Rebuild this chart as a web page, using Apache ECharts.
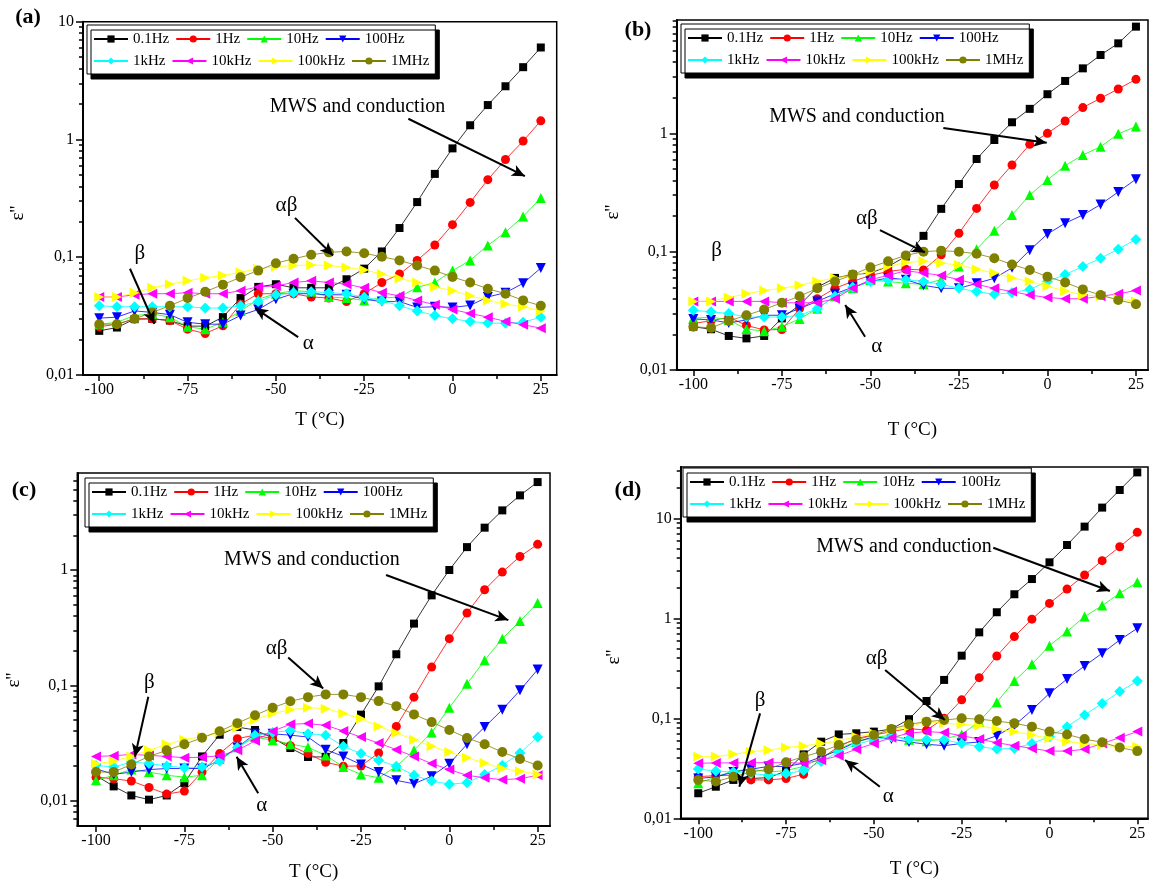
<!DOCTYPE html>
<html>
<head>
<meta charset="utf-8">
<title>ε'' vs T</title>
<script src="https://cdn.jsdelivr.net/npm/echarts@6/dist/echarts.min.js"></script>
<style>
  html, body { margin: 0; padding: 0; background: #fff; }
  #chart { width: 1150px; height: 887px; }
</style>
</head>
<body>
<div id="chart"></div>
<script>
// temperature steps (°C)
const temps = [-100, -95, -90, -85, -80, -75, -70, -65, -60, -55, -50, -45, -40,
  -35, -30, -25, -20, -15, -10, -5, 0, 5, 10, 15, 20, 25];
const freqs = ['0.1Hz', '1Hz', '10Hz', '100Hz', '1kHz', '10kHz', '100kHz', '1MHz'];
const xTicks = [-100, -75, -50, -25, 0, 25];
const xMinorTicks = [-87.5, -62.5, -37.5, -12.5, 12.5];
const yTicks = [0.01, 0.1, 1, 10];
const yMinorMant = [2, 3, 4, 5, 6, 7, 8, 9];
const yDecades = [0.001, 0.01, 0.1, 1, 10];

// panel (a)
const a01Hz = [0.0237, 0.0253, 0.0298, 0.030, 0.029, 0.026, 0.026, 0.031, 0.045, 0.056, 0.059, 0.055, 0.055, 0.055, 0.065, 0.080, 0.112, 0.177, 0.294, 0.51, 0.84, 1.32, 1.96, 2.83, 4.11, 6.04];
const a1Hz = [0.0257, 0.027, 0.030, 0.030, 0.029, 0.0245, 0.0225, 0.0262, 0.040, 0.049, 0.049, 0.049, 0.046, 0.045, 0.042, 0.049, 0.061, 0.072, 0.094, 0.127, 0.189, 0.292, 0.456, 0.676, 0.97, 1.44];
const a10Hz = [0.027, 0.028, 0.032, 0.033, 0.031, 0.0257, 0.0245, 0.028, 0.035, 0.044, 0.049, 0.052, 0.051, 0.046, 0.045, 0.043, 0.045, 0.046, 0.0555, 0.061, 0.077, 0.094, 0.126, 0.163, 0.222, 0.318];
const a100Hz = [0.0304, 0.031, 0.035, 0.034, 0.0325, 0.028, 0.027, 0.027, 0.032, 0.036, 0.044, 0.049, 0.049, 0.048, 0.048, 0.044, 0.042, 0.042, 0.0375, 0.038, 0.0375, 0.039, 0.046, 0.050, 0.060, 0.081];
const a1kHz = [0.0387, 0.038, 0.038, 0.038, 0.038, 0.038, 0.037, 0.037, 0.0387, 0.042, 0.048, 0.050, 0.051, 0.050, 0.049, 0.0457, 0.043, 0.0387, 0.035, 0.032, 0.030, 0.0285, 0.0276, 0.0275, 0.028, 0.031];
const a10kHz = [0.046, 0.046, 0.048, 0.049, 0.049, 0.050, 0.049, 0.049, 0.052, 0.056, 0.057, 0.061, 0.063, 0.061, 0.059, 0.055, 0.050, 0.047, 0.043, 0.0395, 0.036, 0.0333, 0.031, 0.0285, 0.0267, 0.025];
const a100kHz = [0.046, 0.046, 0.050, 0.055, 0.059, 0.063, 0.067, 0.070, 0.0745, 0.080, 0.083, 0.085, 0.086, 0.085, 0.082, 0.078, 0.072, 0.066, 0.061, 0.056, 0.052, 0.047, 0.043, 0.040, 0.038, 0.035];
const a1MHz = [0.027, 0.027, 0.030, 0.034, 0.0387, 0.045, 0.051, 0.0585, 0.0675, 0.077, 0.089, 0.097, 0.105, 0.110, 0.112, 0.108, 0.101, 0.094, 0.085, 0.077, 0.068, 0.061, 0.054, 0.049, 0.043, 0.0387];

// panel (b)
const b01Hz = [0.0232, 0.0221, 0.0194, 0.0185, 0.0194, 0.0273, 0.0354, 0.050, 0.060, 0.064, 0.066, 0.075, 0.091, 0.136, 0.23, 0.373, 0.607, 0.878, 1.24, 1.61, 2.14, 2.77, 3.54, 4.59, 5.76, 7.97];
const b1Hz = [0.0248, 0.026, 0.028, 0.0238, 0.0218, 0.022, 0.033, 0.040, 0.049, 0.056, 0.063, 0.068, 0.071, 0.070, 0.094, 0.143, 0.232, 0.366, 0.54, 0.807, 1.0, 1.27, 1.65, 1.98, 2.37, 2.86];
const b10Hz = [0.0273, 0.028, 0.0265, 0.0222, 0.0213, 0.0232, 0.027, 0.033, 0.042, 0.049, 0.0575, 0.056, 0.054, 0.053, 0.058, 0.075, 0.105, 0.15, 0.204, 0.301, 0.403, 0.533, 0.656, 0.77, 0.99, 1.14];
const b100Hz = [0.027, 0.0265, 0.025, 0.0265, 0.029, 0.029, 0.033, 0.038, 0.044, 0.050, 0.056, 0.060, 0.058, 0.052, 0.049, 0.049, 0.054, 0.0596, 0.073, 0.103, 0.141, 0.174, 0.204, 0.25, 0.32, 0.41];
const b1kHz = [0.032, 0.031, 0.030, 0.028, 0.028, 0.028, 0.029, 0.033, 0.042, 0.050, 0.056, 0.058, 0.058, 0.056, 0.053, 0.049, 0.046, 0.0436, 0.045, 0.048, 0.056, 0.064, 0.075, 0.088, 0.105, 0.127];
const b10kHz = [0.038, 0.038, 0.038, 0.038, 0.038, 0.037, 0.037, 0.037, 0.040, 0.049, 0.058, 0.063, 0.069, 0.066, 0.063, 0.058, 0.053, 0.049, 0.046, 0.043, 0.041, 0.040, 0.040, 0.042, 0.044, 0.047];
const b100kHz = [0.038, 0.038, 0.041, 0.044, 0.047, 0.049, 0.052, 0.056, 0.060, 0.063, 0.068, 0.075, 0.081, 0.083, 0.080, 0.077, 0.071, 0.066, 0.060, 0.056, 0.051, 0.0465, 0.043, 0.042, 0.040, 0.038];
const b1MHz = [0.0232, 0.0227, 0.026, 0.029, 0.0325, 0.037, 0.042, 0.049, 0.056, 0.064, 0.0737, 0.083, 0.093, 0.100, 0.102, 0.100, 0.096, 0.088, 0.078, 0.070, 0.0615, 0.055, 0.048, 0.043, 0.039, 0.036];

// panel (c)
const c01Hz = [0.0165, 0.0133, 0.0111, 0.0102, 0.0111, 0.0142, 0.0242, 0.0373, 0.0435, 0.041, 0.035, 0.0286, 0.0239, 0.024, 0.0316, 0.0557, 0.098, 0.186, 0.343, 0.603, 1.0, 1.58, 2.33, 3.29, 4.44, 5.79];
const c1Hz = [0.016, 0.0155, 0.0148, 0.013, 0.0114, 0.0121, 0.0177, 0.0256, 0.0345, 0.037, 0.0345, 0.030, 0.0256, 0.0215, 0.0199, 0.020, 0.0259, 0.044, 0.079, 0.144, 0.254, 0.424, 0.675, 0.96, 1.31, 1.67];
const c10Hz = [0.015, 0.0166, 0.0186, 0.0177, 0.0166, 0.016, 0.0166, 0.023, 0.029, 0.0356, 0.0334, 0.031, 0.029, 0.0247, 0.0196, 0.0169, 0.0158, 0.0198, 0.0273, 0.039, 0.064, 0.103, 0.165, 0.254, 0.361, 0.518];
const c100Hz = [0.0189, 0.0169, 0.0177, 0.0186, 0.019, 0.019, 0.019, 0.0224, 0.0289, 0.038, 0.038, 0.037, 0.0356, 0.0277, 0.0242, 0.0206, 0.0177, 0.015, 0.014, 0.0163, 0.0209, 0.0308, 0.0435, 0.0615, 0.0905, 0.137];
const c1kHz = [0.0202, 0.0196, 0.0216, 0.021, 0.020, 0.0193, 0.0196, 0.022, 0.0289, 0.037, 0.039, 0.0406, 0.038, 0.037, 0.0296, 0.0256, 0.0224, 0.0199, 0.0166, 0.0148, 0.0139, 0.0143, 0.0169, 0.0202, 0.0259, 0.0356];
const c10kHz = [0.0242, 0.0245, 0.0252, 0.0247, 0.0242, 0.0236, 0.0238, 0.0245, 0.0273, 0.033, 0.040, 0.046, 0.0466, 0.045, 0.0402, 0.0356, 0.0316, 0.0277, 0.0242, 0.021, 0.0186, 0.0166, 0.0158, 0.0152, 0.0155, 0.0166];
const c100kHz = [0.0209, 0.022, 0.0242, 0.0273, 0.0308, 0.0338, 0.036, 0.039, 0.043, 0.0504, 0.057, 0.0615, 0.064, 0.0628, 0.057, 0.0514, 0.044, 0.0386, 0.0338, 0.0296, 0.0264, 0.0236, 0.0212, 0.019, 0.018, 0.0169];
const c1MHz = [0.0177, 0.0177, 0.0206, 0.0242, 0.0273, 0.0308, 0.0351, 0.040, 0.047, 0.055, 0.064, 0.0727, 0.079, 0.0835, 0.0835, 0.079, 0.073, 0.066, 0.056, 0.048, 0.041, 0.035, 0.0308, 0.0264, 0.023, 0.0202];

// panel (d)
const d01Hz = [0.0178, 0.0207, 0.0242, 0.025, 0.0255, 0.0297, 0.0436, 0.0584, 0.069, 0.0708, 0.0736, 0.078, 0.098, 0.149, 0.242, 0.423, 0.724, 1.15, 1.74, 2.47, 3.63, 5.41, 8.26, 12.8, 19.2, 28.8];
const d1Hz = [0.0261, 0.0267, 0.027, 0.0242, 0.0242, 0.025, 0.0276, 0.0398, 0.052, 0.063, 0.068, 0.0736, 0.079, 0.076, 0.1, 0.153, 0.255, 0.42, 0.656, 0.98, 1.41, 1.96, 2.71, 3.77, 5.2, 7.24];
const d10Hz = [0.0224, 0.026, 0.0297, 0.031, 0.029, 0.030, 0.033, 0.040, 0.050, 0.058, 0.064, 0.068, 0.061, 0.059, 0.062, 0.069, 0.093, 0.145, 0.236, 0.347, 0.533, 0.736, 1.04, 1.34, 1.78, 2.29];
const d100Hz = [0.025, 0.026, 0.029, 0.031, 0.033, 0.033, 0.0355, 0.041, 0.048, 0.058, 0.0655, 0.062, 0.058, 0.055, 0.0533, 0.056, 0.058, 0.067, 0.0845, 0.121, 0.178, 0.247, 0.334, 0.447, 0.607, 0.794];
const d1kHz = [0.0311, 0.0297, 0.029, 0.028, 0.027, 0.028, 0.030, 0.037, 0.0464, 0.055, 0.061, 0.0655, 0.062, 0.061, 0.061, 0.056, 0.052, 0.0493, 0.050, 0.056, 0.0655, 0.0825, 0.108, 0.141, 0.185, 0.236];
const d10kHz = [0.0355, 0.0358, 0.0358, 0.036, 0.036, 0.036, 0.0355, 0.038, 0.0423, 0.049, 0.056, 0.064, 0.071, 0.0736, 0.072, 0.067, 0.062, 0.057, 0.0533, 0.050, 0.047, 0.047, 0.049, 0.056, 0.064, 0.0736];
const d100kHz = [0.0414, 0.0414, 0.0436, 0.0464, 0.048, 0.051, 0.053, 0.056, 0.0593, 0.0655, 0.071, 0.076, 0.0825, 0.0926, 0.089, 0.087, 0.0845, 0.078, 0.0736, 0.068, 0.063, 0.0585, 0.056, 0.054, 0.052, 0.052];
const d1MHz = [0.0242, 0.0233, 0.026, 0.029, 0.031, 0.0364, 0.0414, 0.0464, 0.054, 0.061, 0.068, 0.078, 0.087, 0.0926, 0.096, 0.1, 0.098, 0.094, 0.089, 0.0825, 0.0736, 0.069, 0.062, 0.0575, 0.051, 0.047];

// annotation text positions and arrows, in data units [T, ε'']
const notesA = [['MWS and conduction', -26.9, 1.88], ['αβ', -47, 0.275], ['β', -88.5, 0.107], ['α', -40.8, 0.0185]];
const arrowsA = [[-12.5, 1.5, 20.5, 0.488], [-44.6, 0.216, -33.8, 0.1035], [-91.3, 0.0798, -84.4, 0.0272], [-43.7, 0.021, -55.9, 0.037]];
const notesB = [['MWS and conduction', -53.8, 1.38], ['αβ', -51, 0.191], ['β', -93.4, 0.103], ['α', -48.2, 0.0157]];
const arrowsB = [[-29.4, 1.11, -0.2, 0.833], [-47.3, 0.152, -34.6, 0.0986], [-51.5, 0.0191, -57.1, 0.0354]];
const notesC = [['MWS and conduction', -38.9, 1.24], ['αβ', -48.9, 0.209], ['β', -84.9, 0.105], ['α', -53.1, 0.00916]];
const arrowsC = [[-17.9, 0.905, 16.7, 0.368], [-45.6, 0.174, -35.7, 0.094], [-85.2, 0.0796, -89, 0.024], [-54.1, 0.01157, -60.2, 0.024]];
const notesD = [['MWS and conduction', -41.4, 5.2], ['αβ', -49.2, 0.392], ['β', -82.4, 0.152], ['α', -45.9, 0.0164]];
const arrowsD = [[-16, 5.08, 17.2, 1.875], [-46.8, 0.304, -29.8, 0.0962], [-82.4, 0.112, -88.3, 0.0207], [-48.3, 0.0207, -58.2, 0.0383]];

const FONT = '"Liberation Serif", "Times New Roman", serif';
const colors = ['#000000', '#ff0000', '#00ff00', '#0000ff', '#00ffff', '#ff00ff', '#ffff00', '#808000'];
const symbols = ['rect', 'circle', 'triangle', 'triangle', 'diamond', 'triangle', 'triangle', 'circle'];
const rotations = [0, 0, 0, 180, 0, 90, -90, 0];
const sizes = [8, 9, 10, 10, 11, 10, 10, 10];

const panels = [
  {
    label: '(a)', values: [a01Hz, a1Hz, a10Hz, a100Hz, a1kHz, a10kHz, a100kHz, a1MHz],
    notes: notesA, arrows: arrowsA,
    grid: { left: 83, top: 21.7, width: 473.7, height: 353.3 },
    xMin: -104.6, xMax: 29.5, yMin: 0.01, yMax: 10, nameGap: 36,
    legend: { left: 87, top: 25 }, tag: [28, 17], eps: [18, 213]
  },
  {
    label: '(b)', values: [b01Hz, b1Hz, b10Hz, b100Hz, b1kHz, b10kHz, b100kHz, b1MHz],
    notes: notesB, arrows: arrowsB,
    grid: { left: 676.7, top: 20, width: 471.3, height: 350 },
    xMin: -104.7, xMax: 28.4, yMin: 0.01, yMax: 9.07, nameGap: 51,
    legend: { left: 681, top: 24 }, tag: [638, 30], eps: [613, 212]
  },
  {
    label: '(c)', values: [c01Hz, c1Hz, c10Hz, c100Hz, c1kHz, c10kHz, c100kHz, c1MHz],
    notes: notesC, arrows: arrowsC,
    grid: { left: 77.3, top: 473, width: 472.7, height: 353 },
    xMin: -105.3, xMax: 28.5, yMin: 0.00603, yMax: 6.94, nameGap: 37,
    legend: { left: 85, top: 478 }, tag: [24, 490], eps: [14, 680]
  },
  {
    label: '(d)', values: [d01Hz, d1Hz, d10Hz, d100Hz, d1kHz, d10kHz, d100kHz, d1MHz],
    notes: notesD, arrows: arrowsD,
    grid: { left: 680.7, top: 467, width: 467.3, height: 351.3 },
    xMin: -105, xMax: 28.05, yMin: 0.01, yMax: 32.6, nameGap: 41,
    legend: { left: 683, top: 468 }, tag: [628, 490], eps: [614, 657]
  }
];

const tickLabel = { fontFamily: FONT, fontSize: 16, color: '#000' };
const fmtY = v => {
  const n = Math.pow(10, Math.round(v));
  return (n >= 1 ? String(n) : String(+n.toPrecision(1))).replace('.', ',');
};

const grids = [], xAxes = [], yAxes = [], series = [], legends = [], graphics = [];

panels.forEach((p, pi) => {
  grids.push(Object.assign({ show: true, borderColor: '#000', borderWidth: 1.5, containLabel: false }, p.grid));

  // main x axis
  xAxes.push({
    type: 'value', gridIndex: pi, position: 'bottom', min: p.xMin, max: p.xMax,
    axisLine: { show: true, onZero: false, lineStyle: { color: '#000', width: 2 } },
    axisTick: { show: true, customValues: xTicks, length: 6, lineStyle: { color: '#000', width: 1.5 } },
    axisLabel: Object.assign({ show: true, customValues: xTicks, margin: 7 }, tickLabel),
    splitLine: { show: false },
    name: 'T (°C)', nameLocation: 'middle', nameGap: p.nameGap,
    nameTextStyle: { fontFamily: FONT, fontSize: 19, color: '#000' }
  });
  // minor x ticks
  xAxes.push({
    type: 'value', gridIndex: pi, position: 'bottom', min: p.xMin, max: p.xMax,
    axisLine: { show: false, onZero: false },
    axisTick: { show: true, customValues: xMinorTicks, length: 4, lineStyle: { color: '#000', width: 1.5 } },
    axisLabel: { show: false }, splitLine: { show: false }
  });

  const lo = Math.log10(p.yMin), hi = Math.log10(p.yMax);
  const majors = yTicks.map(v => Math.log10(v)).filter(v => v >= lo - 1e-9 && v <= hi + 1e-9);
  const minors = [];
  yDecades.forEach(d => yMinorMant.forEach(m => {
    const v = Math.log10(d * m);
    if (v > lo && v < hi) minors.push(v);
  }));

  // data y axis (log)
  yAxes.push({
    type: 'log', logBase: 10, gridIndex: pi, position: 'left', min: p.yMin, max: p.yMax,
    axisLine: { show: true, onZero: false, lineStyle: { color: '#000', width: 2 } },
    axisTick: { show: false }, axisLabel: { show: false }, splitLine: { show: false }, minorTick: { show: false }
  });
  // decade ticks and labels
  yAxes.push({
    type: 'value', gridIndex: pi, position: 'left', min: lo, max: hi,
    axisLine: { show: false, onZero: false },
    axisTick: { show: true, customValues: majors, length: 7, lineStyle: { color: '#000', width: 1.5 } },
    axisLabel: Object.assign({ show: true, customValues: majors, margin: 9, formatter: fmtY }, tickLabel),
    splitLine: { show: false }
  });
  // minor ticks
  yAxes.push({
    type: 'value', gridIndex: pi, position: 'left', min: lo, max: hi,
    axisLine: { show: false, onZero: false },
    axisTick: { show: true, customValues: minors, length: 4, lineStyle: { color: '#000', width: 1.5 } },
    axisLabel: { show: false }, splitLine: { show: false }
  });

  p.values.forEach((vals, si) => {
    const s = {
      name: freqs[si], type: 'line', xAxisIndex: pi * 2, yAxisIndex: pi * 3,
      data: temps.map((t, i) => [t, vals[i]]),
      symbol: symbols[si], symbolRotate: rotations[si], symbolSize: sizes[si],
      showAllSymbol: true,
      itemStyle: { color: colors[si] },
      lineStyle: { color: colors[si], width: 0.8 },
      emphasis: { disabled: true }
    };
    if (si === p.values.length - 1) {
      s.markLine = {
        silent: true, symbol: ['none', 'arrow'], symbolSize: [9, 13], precision: 4,
        lineStyle: { color: '#000', width: 2, type: 'solid' },
        label: { show: false }, emphasis: { disabled: true },
        data: p.arrows.map(a => [{ coord: [a[0], a[1]] }, { coord: [a[2], a[3]] }])
      };
      s.markPoint = {
        silent: true, symbol: 'circle', symbolSize: 0,
        itemStyle: { color: 'transparent' },
        data: p.notes.map(n => ({
          coord: [n[1], n[2]],
          label: {
            show: true, formatter: n[0], position: 'inside', color: '#000',
            fontFamily: FONT, fontSize: n[0].length > 3 ? 20 : 21
          }
        }))
      };
    }
    series.push(s);
  });

  legends.push({
    data: freqs, left: p.legend.left, top: p.legend.top, width: 352,
    orient: 'horizontal', itemWidth: 34, itemHeight: 9, itemGap: 6,
    padding: [6, 6, 5, 6], selectedMode: false,
    backgroundColor: '#fff', borderColor: '#000', borderWidth: 1,
    shadowColor: '#000', shadowOffsetX: 4, shadowOffsetY: 5, shadowBlur: 0,
    textStyle: { fontFamily: FONT, fontSize: 15, color: '#000', lineHeight: 16 }
  });

  graphics.push({
    type: 'text', x: p.tag[0], y: p.tag[1],
    style: { text: p.label, font: 'bold 22px ' + FONT, fill: '#000', textAlign: 'center', textVerticalAlign: 'middle' }
  });
  graphics.push({
    type: 'text', x: p.eps[0], y: p.eps[1], rotation: Math.PI / 2,
    style: { text: "ε''", font: '19px ' + FONT, fill: '#000', textAlign: 'center', textVerticalAlign: 'middle' }
  });
});

const chart = echarts.init(document.getElementById('chart'), null, { renderer: 'canvas' });
chart.setOption({
  backgroundColor: '#fff',
  animation: false,
  grid: grids,
  xAxis: xAxes,
  yAxis: yAxes,
  legend: legends,
  series: series,
  graphic: graphics
});
</script>
</body>
</html>
